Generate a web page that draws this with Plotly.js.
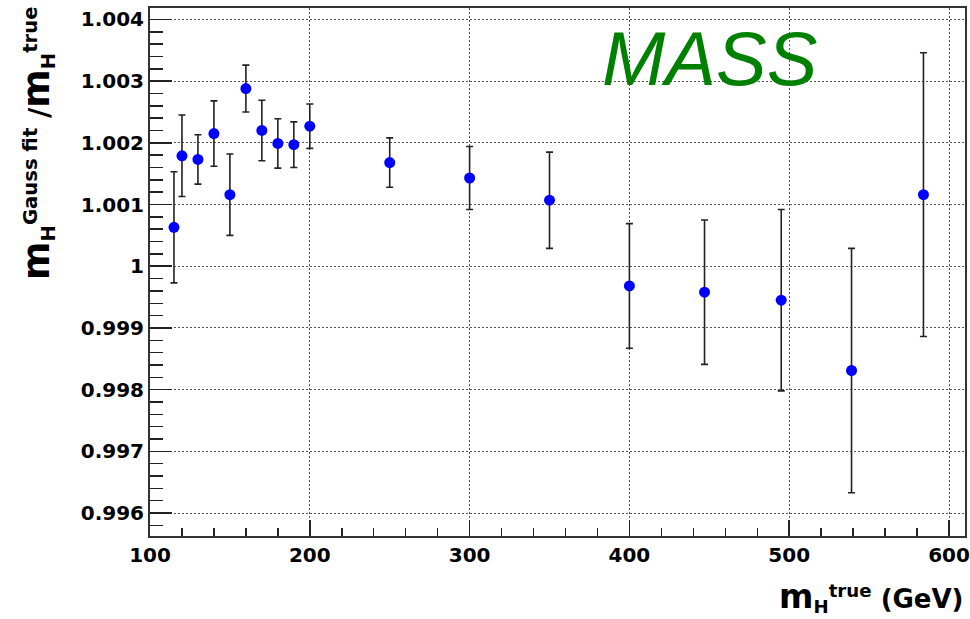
<!DOCTYPE html>
<html>
<head>
<meta charset="utf-8">
<script src="https://cdn.plot.ly/plotly-3.0.1.min.js"></script>
<style>html,body{margin:0;padding:0;background:#fff;}#chart{width:970px;height:619px;}</style>
</head>
<body>
<div id="chart"></div>
<script>
// Higgs true mass (GeV)
var massTrue = [115, 120, 130, 140, 150, 160, 170, 180, 190, 200, 250, 300, 350, 400, 447, 495, 539, 584];
// fitted / true mass ratio
var ratio = [1.00063, 1.00179, 1.00173, 1.00215, 1.00116, 1.00288, 1.00220, 1.00199, 1.00197, 1.00227,
             1.00168, 1.00143, 1.00107, 0.99968, 0.99958, 0.99945, 0.99831, 1.00116];
// symmetric errors on the ratio
var ratioErr = [0.00090, 0.00066, 0.00040, 0.00053, 0.00066, 0.00038, 0.00049, 0.00040, 0.00037, 0.00036,
                0.00040, 0.00051, 0.00078, 0.00101, 0.00117, 0.00147, 0.00198, 0.00230];
var xTickVals = [100, 200, 300, 400, 500, 600];
var yTickVals = [0.996, 0.997, 0.998, 0.999, 1, 1.001, 1.002, 1.003, 1.004];
var yTickText = ['0.996', '0.997', '0.998', '0.999', '1', '1.001', '1.002', '1.003', '1.004'];

var tickFont = {family: 'DejaVu Sans', size: 20, color: '#000', weight: 'bold'};

var trace = {
  x: massTrue,
  y: ratio,
  type: 'scatter',
  mode: 'markers',
  marker: {color: '#0000ff', size: 11, symbol: 'circle'},
  error_y: {type: 'data', array: ratioErr, visible: true, color: '#222', thickness: 1.6, width: 3.5},
  showlegend: false,
  hoverinfo: 'x+y'
};

var layout = {
  width: 970,
  height: 619,
  margin: {l: 150, r: 5, t: 8, b: 83},
  paper_bgcolor: '#fff',
  plot_bgcolor: '#fff',
  xaxis: {
    range: [100, 610],
    tickmode: 'array',
    tickvals: xTickVals,
    ticktext: xTickVals.map(String),
    ticks: 'inside',
    ticklen: 16,
    tickwidth: 1.5,
    tickcolor: '#222',
    tickfont: tickFont,
    showline: true,
    linewidth: 2,
    linecolor: '#333',
    mirror: true,
    showgrid: true,
    gridcolor: '#555',
    gridwidth: 1,
    griddash: '2px,2px',
    zeroline: false,
    minor: {dtick: 20, tick0: 100, ticks: 'inside', ticklen: 8, tickwidth: 1.5, tickcolor: '#222', showgrid: false}
  },
  yaxis: {
    range: [0.995628, 1.004185],
    tickmode: 'array',
    tickvals: yTickVals,
    ticktext: yTickText,
    ticks: 'inside',
    ticklen: 22,
    tickwidth: 1.5,
    tickcolor: '#222',
    tickfont: tickFont,
    showline: true,
    linewidth: 2,
    linecolor: '#333',
    mirror: true,
    showgrid: true,
    gridcolor: '#555',
    gridwidth: 1,
    griddash: '2px,2px',
    zeroline: false,
    minor: {dtick: 0.0002, tick0: 0.996, ticks: 'inside', ticklen: 13, tickwidth: 1.5, tickcolor: '#222', showgrid: false}
  },
  annotations: [
    {
      text: 'MASS',
      xref: 'paper', yref: 'paper',
      x: 0.687, y: 0.905,
      xanchor: 'center', yanchor: 'middle',
      showarrow: false,
      font: {family: 'Liberation Sans', size: 76, color: '#008000', style: 'italic'}
    },
    {
      text: '<span style="font-size:37px">m</span><sub>H</sub><sup>Gauss fit</sup> /<span style="font-size:37px">m</span><sub>H</sub><sup>true</sup>',
      xref: 'paper', yref: 'paper',
      x: (37 - 150) / 815, y: (536 - 143) / 528,
      xanchor: 'center', yanchor: 'middle',
      textangle: -90,
      showarrow: false,
      font: {family: 'DejaVu Sans', size: 28, color: '#000', weight: 'bold'}
    },
    {
      text: '<span style="font-size:33px">m</span><sub>H</sub><sup>true</sup> (GeV)',
      xref: 'paper', yref: 'paper',
      x: (871 - 150) / 815, y: (536 - 597) / 528,
      xanchor: 'center', yanchor: 'middle',
      showarrow: false,
      font: {family: 'DejaVu Sans', size: 26, color: '#000', weight: 'bold'}
    }
  ]
};

Plotly.newPlot('chart', [trace], layout, {displayModeBar: false, staticPlot: true});
</script>
</body>
</html>
